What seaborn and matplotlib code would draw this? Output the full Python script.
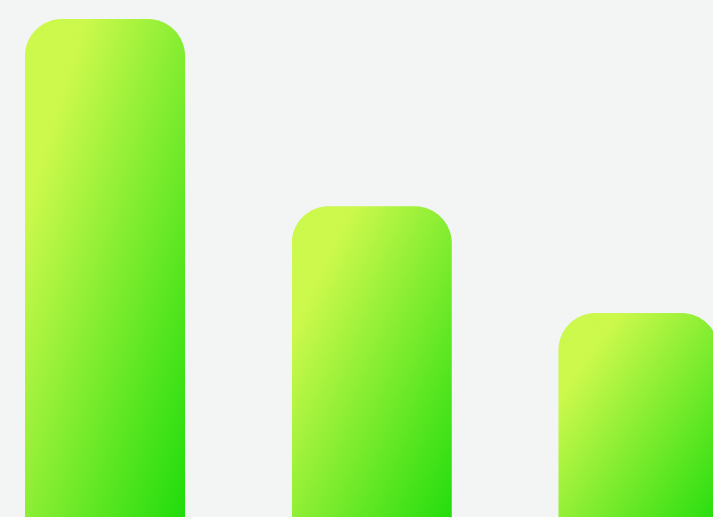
import numpy as np
import pandas as pd
import matplotlib
matplotlib.use("Agg")
import matplotlib.pyplot as plt
from matplotlib.patches import PathPatch
from matplotlib.path import Path
import seaborn as sns

categories = ["A", "B", "C"]
values = [100.0, 64.4, 44.1]

BG = "#f3f4f4"
YELLOW = np.array([204, 249, 76]) / 255.0
GREEN = np.array([26, 220, 10]) / 255.0

W, H, DPI = 713, 517, 100
fig = plt.figure(figsize=(W / DPI, H / DPI), dpi=DPI, facecolor=BG)
ax = fig.add_axes([0, 0, 1, 1])
df = pd.DataFrame({"cat": categories, "val": values})
sns.barplot(data=df, x="cat", y="val", width=0.6, ax=ax, color="#7fe830")

xl = (-0.3936, -0.3936 + W / 266.75)
yl = (28 * 100 / 526, 545 * 100 / 526)
ax.set_xlim(*xl)
ax.set_ylim(*yl)
ax.axis("off")

xdpp = (xl[1] - xl[0]) / W
ydpp = (yl[1] - yl[0]) / H
r_px = 37
rx, ry = r_px * xdpp, r_px * ydpp
k = 0.5523

# gradient image in normalized box coords
n = 400
u = np.linspace(0, 1, n)[None, :]
v = np.linspace(0, 1, n)[:, None]
t = (u + v) / 2.0
s = np.clip((t - 0.19) / 0.81, 0, 1)
img = YELLOW[None, None, :] * (1 - s[..., None]) + GREEN[None, None, :] * s[..., None]

for p in list(ax.patches):
    x0 = p.get_x()
    w = p.get_width()
    h = p.get_height()
    x1 = x0 + w
    p.set_visible(False)
    verts = [
        (x0, -20), (x0, h - ry),
        (x0, h - ry + k * ry), (x0 + rx - k * rx, h), (x0 + rx, h),
        (x1 - rx, h),
        (x1 - rx + k * rx, h), (x1, h - ry + k * ry), (x1, h - ry),
        (x1, -20), (x0, -20),
    ]
    codes = [Path.MOVETO, Path.LINETO,
             Path.CURVE4, Path.CURVE4, Path.CURVE4,
             Path.LINETO,
             Path.CURVE4, Path.CURVE4, Path.CURVE4,
             Path.LINETO, Path.CLOSEPOLY]
    clip = PathPatch(Path(verts, codes), transform=ax.transData,
                     facecolor="none", edgecolor="none")
    ax.add_patch(clip)
    im = ax.imshow(img, extent=(x0, x1, 0, h), origin="upper",
                   aspect="auto", interpolation="bilinear", zorder=2)
    im.set_clip_path(clip)

ax.set_xlim(*xl)
ax.set_ylim(*yl)
fig.savefig("out.png", dpi=DPI, facecolor=BG)
